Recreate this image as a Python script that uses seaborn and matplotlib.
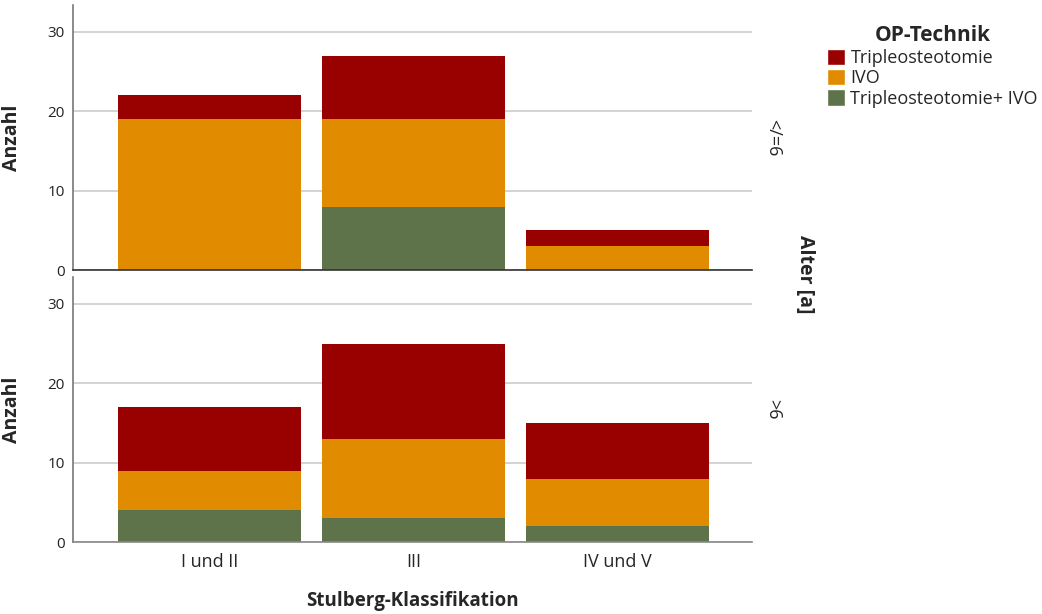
import pandas as pd
import numpy as np
import matplotlib
matplotlib.use("Agg")
import matplotlib.pyplot as plt
import seaborn as sns
from matplotlib.patches import Patch

sns.set_theme(style="white")
plt.rcParams['font.family'] = ['Open Sans', 'DejaVu Sans']

# Daten
klassen = ["I und II", "III", "IV und V"]
techniken = ["Tripleosteotomie+ IVO", "IVO", "Tripleosteotomie"]
alter_gruppen = ["</=6", ">6"]

# </=6
kombi_bis6 = [0, 8, 0]
ivo_bis6 = [19, 11, 3]
triple_bis6 = [3, 8, 2]
# >6
kombi_ueber6 = [4, 3, 2]
ivo_ueber6 = [5, 10, 6]
triple_ueber6 = [8, 12, 7]

farben = {"Tripleosteotomie": "#990000",
          "IVO": "#E18C00",
          "Tripleosteotomie+ IVO": "#5E7349"}

rows = []
for gruppe, werte in zip(alter_gruppen, [
        (kombi_bis6, ivo_bis6, triple_bis6),
        (kombi_ueber6, ivo_ueber6, triple_ueber6)]):
    for tech, vals in zip(techniken, werte):
        for k, v in zip(klassen, vals):
            rows.append({"Alter": gruppe, "Technik": tech, "Klasse": k, "Anzahl": v})
df = pd.DataFrame(rows)

fig = plt.figure(figsize=(10.42, 6.14), dpi=100)
ax_top = fig.add_axes([0.070, 0.560, 0.652, 0.432])
ax_bot = fig.add_axes([0.070, 0.117, 0.652, 0.432])

for ax, gruppe in zip([ax_top, ax_bot], alter_gruppen):
    sub = df[df["Alter"] == gruppe]
    bottom = np.zeros(len(klassen))
    for tech in techniken:
        d = sub[sub["Technik"] == tech].set_index("Klasse").loc[klassen].reset_index()
        sns.barplot(data=d, x="Klasse", y="Anzahl", ax=ax, color=farben[tech],
                    width=0.9, bottom=bottom, saturation=1, linewidth=0,
                    order=klassen, errorbar=None)
        bottom = bottom + d["Anzahl"].values
    ax.set_ylim(0, 33.4)
    ax.set_xlim(-0.67, 2.66)
    ax.set_yticks([0, 10, 20, 30])
    ax.yaxis.grid(True, color="#cccccc", linewidth=1.2)
    ax.set_axisbelow(True)
    ax.tick_params(axis="y", length=0, labelsize=11, pad=6, labelcolor="#222222")
    ax.set_ylabel("Anzahl", fontsize=14, fontweight="bold")
    ax.yaxis.set_label_coords(-0.075, 0.5)
    ax.set_xlabel("")
    for s in ["top", "right"]:
        ax.spines[s].set_visible(False)
    ax.spines["left"].set_color("#777777")
    ax.spines["bottom"].set_color("#333333")
    ax.spines["left"].set_linewidth(1.2)
    ax.spines["bottom"].set_linewidth(1.2)

ax_top.set_xticks([])
ax_bot.tick_params(axis="x", length=0, labelsize=13, pad=8)
ax_bot.set_xlabel("Stulberg-Klassifikation", fontsize=13.5, fontweight="bold", labelpad=14)
ax_bot.spines["bottom"].set_color("#888888")

ax_top.text(1.018, 0.5, "</=6", transform=ax_top.transAxes, rotation=270,
            ha="left", va="center", fontsize=13)
ax_bot.text(1.018, 0.5, ">6", transform=ax_bot.transAxes, rotation=270,
            ha="left", va="center", fontsize=13)
fig.text(0.773, 0.553, "Alter [a]", rotation=270, ha="center", va="center",
         fontsize=14, fontweight="bold")

handles = [Patch(facecolor=farben[t], label=t) for t in
           ["Tripleosteotomie", "IVO", "Tripleosteotomie+ IVO"]]
leg = fig.legend(handles=handles, title="OP-Technik", loc="upper left",
                 bbox_to_anchor=(0.778, 0.985), frameon=False, fontsize=13,
                 handlelength=1.0, handleheight=1.0, handletextpad=0.3,
                 labelspacing=0.12, alignment="center",
                 title_fontproperties={"weight": "bold", "size": 15})

fig.savefig("out.png", dpi=100)
